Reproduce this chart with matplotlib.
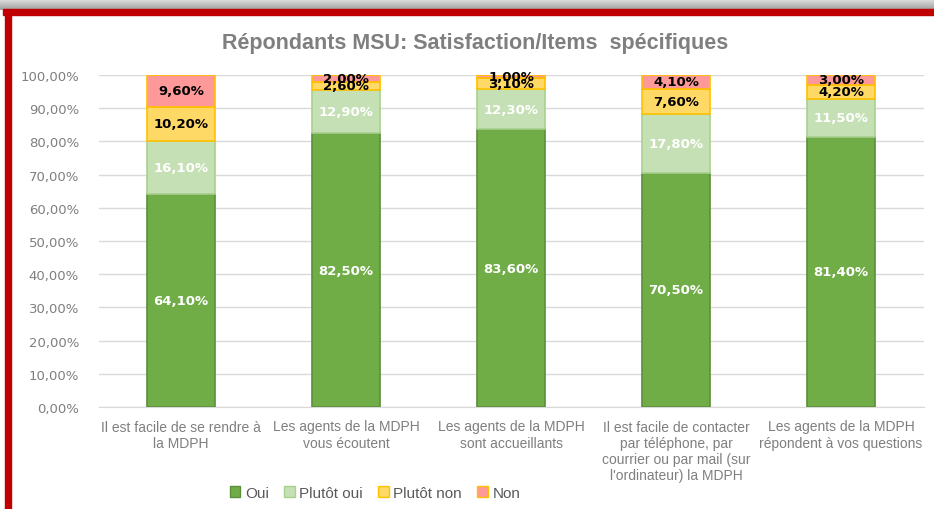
import matplotlib
matplotlib.use("Agg")
import matplotlib.pyplot as plt
import numpy as np
from matplotlib.patches import Rectangle, Patch

# data (percent)
categories = [
    "Il est facile de se rendre à\nla MDPH",
    "Les agents de la MDPH\nvous écoutent",
    "Les agents de la MDPH\nsont accueillants",
    "Il est facile de contacter\npar téléphone, par\ncourrier ou par mail (sur\nl'ordinateur) la MDPH",
    "Les agents de la MDPH\nrépondent à vos questions",
]
series_names = ["Oui", "Plutôt oui", "Plutôt non", "Non"]
oui = [64.1, 82.5, 83.6, 70.5, 81.4]
plutot_oui = [16.1, 12.9, 12.3, 17.8, 11.5]
plutot_non = [10.2, 2.6, 3.1, 7.6, 4.2]
non = [9.6, 2.0, 1.0, 4.1, 3.0]
yticks = [0, 10, 20, 30, 40, 50, 60, 70, 80, 90, 100]

faces = ["#70AD47", "#C5E0B4", "#FFD966", "#FF9999"]
edges = ["#5B8F3A", "#A9D18E", "#FFC000", "#FFC000"]
label_colors = ["white", "white", "black", "black"]

narrow = ["Liberation Sans Narrow", "Liberation Sans", "DejaVu Sans"]

fig = plt.figure(figsize=(9.34, 5.10), dpi=100)

# top shadow + red frame
shadow = fig.add_axes([0, 1 - 11 / 510, 1, 11 / 510])
grad = np.linspace(0.88, 0.62, 50).reshape(-1, 1)
shadow.imshow(grad, aspect="auto", cmap="gray", vmin=0, vmax=1, extent=[0, 1, 0, 1])
shadow.axis("off")
fig.patches.append(Rectangle((3 / 934, 1 - 16 / 510), 1, 6 / 510, transform=fig.transFigure,
                             color="#C00000", zorder=5))
fig.patches.append(Rectangle((5 / 934, 0), 6 / 934, 1 - 11 / 510, transform=fig.transFigure,
                             color="#C00000", zorder=5))

ax = fig.add_axes([98.5 / 934, 1 - 408 / 510, 825 / 934, 332 / 510])
x = np.arange(len(categories))
stack = [oui, plutot_oui, plutot_non, non]
bottom = np.zeros(len(categories))
for vals, fc, ec, lc in zip(stack, faces, edges, label_colors):
    vals = np.array(vals)
    ax.bar(x, vals, 0.41, bottom=bottom, color=fc, edgecolor=ec, linewidth=1.2, zorder=3)
    for xi, b, v in zip(x, bottom, vals):
        ax.text(xi, b + v / 2, f"{v:.2f}%".replace(".", ","), ha="center", va="center",
                color=lc, fontsize=9.5, fontweight="bold", zorder=4)
    bottom += vals

ax.set_xlim(-0.5, len(categories) - 0.5)
ax.set_ylim(0, 100)
ax.set_yticks(yticks)
ax.set_yticklabels([f"{t:.2f}%".replace(".", ",") for t in yticks], color="#7F7F7F", fontsize=9.5)
ax.set_xticks(x)
ax.set_xticklabels(categories, color="#7F7F7F", fontsize=10, family=narrow, linespacing=1.2)
ax.tick_params(axis="both", length=0)
ax.tick_params(axis="y", pad=14)
ax.tick_params(axis="x", pad=9)
ax.yaxis.grid(True, color="#D9D9D9", linewidth=1, zorder=0)
for s in ["top", "right", "left"]:
    ax.spines[s].set_visible(False)
ax.spines["bottom"].set_color("#D9D9D9")

fig.text(475 / 934, 1 - 44 / 510, "Répondants MSU: Satisfaction/Items  spécifiques",
         ha="center", va="center", fontsize=15.5, fontweight="bold", color="#7F7F7F", family=narrow)

handles = [Patch(facecolor=fc, edgecolor=ec) for fc, ec in zip(faces, edges)]
fig.legend(handles, series_names, loc="center", bbox_to_anchor=(375 / 934, 1 - 494 / 510), ncol=4,
           frameon=False, handlelength=0.7, handleheight=0.7, handletextpad=0.3, columnspacing=1.0,
           prop={"family": narrow, "size": 11}, labelcolor="#595959")

fig.savefig("out.png", dpi=100)
